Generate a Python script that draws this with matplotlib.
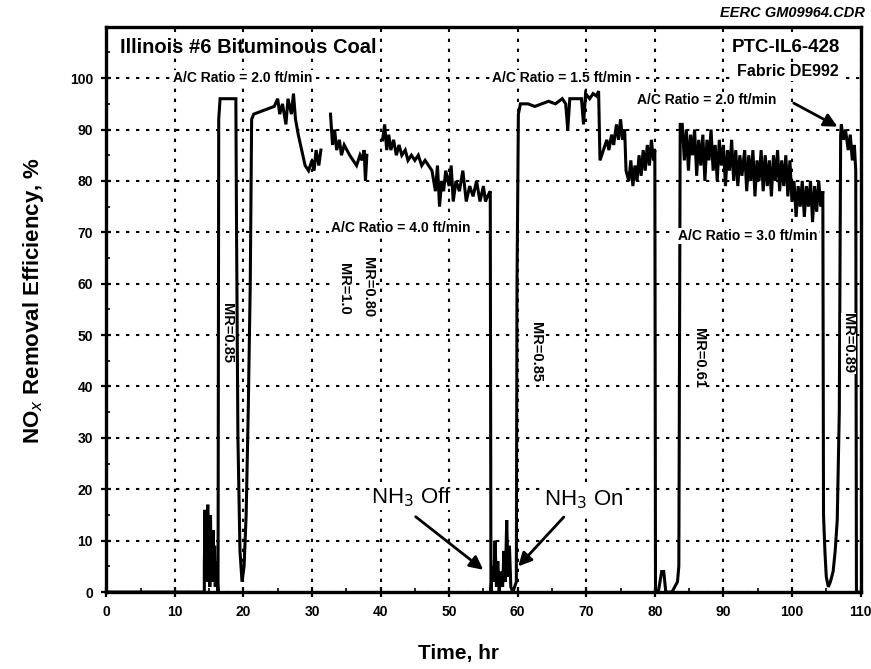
import numpy as np
import matplotlib
matplotlib.use('Agg')
import matplotlib.pyplot as plt
from matplotlib.ticker import MultipleLocator

plt.rcParams['font.family'] = ['Liberation Sans', 'DejaVu Sans']

nan = np.nan

# NOx removal efficiency (%) vs. time on stream (hr); NaN marks data gaps
time_hr = [
    0.0, 14.3, 14.3, 14.4, 14.5, 14.6, 14.7, 14.8, 14.9, 15.0, 15.1, 15.2, 15.3, 15.4,
    15.5, 15.6, 15.7, 15.8, 15.9, 16.0, 16.3,
    16.4, 16.6, 17.5, 18.3, 18.9, 19.0, 19.2, 19.5, 19.8, 20.1, 20.4, 20.7, 21.0, 21.2,
    21.5, 22.5, 23.5, 24.5, 25.0, 25.3, 25.7, 26.2, 26.5, 27.0, 27.3, 27.6, 28.0, 28.5,
    29.0, 29.5, 30.0, 30.3, 30.6, 31.0, 31.3, nan,
    32.7, 33.0, 33.3, 33.6, 34.0, 34.3, 34.7, 35.1, 35.5, 36.0, 36.5, 37.0, 37.3, 37.6,
    37.8, 38.0, nan,
    40.3, 40.6, 40.9, 41.2, 41.5, 41.9, 42.3, 42.7, 43.1, 43.6, 44.0, 44.5, 45.0, 45.5,
    46.0, 46.5, 47.0, 47.5, 48.0, 48.3, 48.6, 48.9, 49.2, 49.5, 50.0, 50.3, 50.6, 51.0,
    51.5, 52.0, 52.5, 53.0, 53.5, 54.0, 54.5, 55.0, 55.3, 55.6, 56.0, 56.1,
    56.3, 56.5, 56.7, 56.9, 57.1, 57.3, 57.5, 57.8, 58.0, 58.2, 58.4, 58.6, 58.8, 59.0,
    59.3, 59.8, 59.9, 60.1, 60.4, 61.5, 62.5, 63.5, 64.5, 65.5, 66.5, 67.0, 67.3, 67.6,
    68.5, 69.3, 69.6, 69.9, 70.5, 71.0, 71.5, 71.8, 72.0, 72.5, 73.0, 73.3, 73.7, 74.0,
    74.4, 74.7, 75.0, 75.3, 75.6, 75.8, 76.2, 76.5, 76.8, 77.1, 77.4, 77.7, 78.0, 78.3,
    78.6, 78.9, 79.2, 79.5, 79.8, 80.0, 80.1,
    80.5, 81.0, 81.3, 81.6, 82.5, 83.3, 83.5, 83.7,
    84.0, 84.3, 84.6, 84.9, 85.2, 85.5, 85.8, 86.1, 86.4, 86.7, 87.0, 87.3, 87.6, 87.9,
    88.2, 88.5, 88.8, 89.1, 89.4, 89.7, 90.0, 90.3, 90.6, 90.9, 91.2, 91.5, 91.8, 92.1,
    92.4, 92.7, 93.1, 93.4, 93.7, 94.0, 94.3, 94.6, 94.9, 95.2, 95.5, 95.8, 96.1, 96.4,
    96.7, 97.0, 97.3, 97.6, 97.9, 98.2, 98.5, 98.8, 99.1, 99.4, 99.7, 100.0, 100.3,
    100.6, 100.9, 101.2, 101.5, 101.8, 102.1, 102.4, 102.7, 103.0, 103.3, 103.6, 103.9,
    104.2, 104.5,
    104.6, 104.8, 105.0, 105.3, 105.6, 106.0, 106.3, 106.6, 106.9, 107.1, 107.2, 107.5,
    107.8, 108.2, 108.5, 108.8, 109.1, 109.3, 109.4, 109.6,
]
efficiency = [
    0, 0, 5, 16, 3, 14, 2, 17, 5, 13, 1, 15, 4, 11,
    2, 12, 3, 9, 1, 6, 0,
    92, 96, 96, 96, 96, 70, 30, 8, 2, 5, 15, 35, 60, 92,
    93, 93.5, 94, 94.5, 96, 93, 95, 91, 96, 93, 97, 92, 89, 86,
    83, 82, 84, 82, 86, 83, 86, nan,
    93, 87, 90, 86, 88, 85, 87, 86, 85, 84, 83, 85, 84, 86,
    80, 85, nan,
    88, 91, 86, 89, 86, 88, 85, 87, 85, 86, 84, 85, 84, 85,
    83, 84, 83, 82, 78, 83, 75, 80, 78, 82, 79, 83, 76, 80,
    78, 82, 76, 79, 77, 80, 76, 79, 76, 77, 78, 0,
    5, 2, 10, 1, 6, 0, 4, 1, 8, 2, 14, 3, 9, 1,
    0, 2, 60, 93, 95, 95, 94.5, 95, 95.5, 95, 96, 95, 90, 96,
    96, 96, 91, 97, 96, 97, 96.5, 97.5, 84, 86, 88, 86, 89, 87,
    91, 88, 92, 88, 90, 82, 80, 84, 79, 83, 80, 85, 81, 86,
    82, 87, 83, 88, 84, 86, 0,
    0, 4, 4, 0, 0, 2, 5, 91,
    91, 84, 90, 82, 89, 85, 90, 81, 88, 83, 89, 80, 88, 84,
    90, 82, 87, 80, 88, 83, 87, 79, 86, 82, 88, 80, 86, 79,
    85, 81, 86, 78, 85, 80, 86, 77, 84, 80, 86, 78, 85, 79,
    84, 77, 85, 80, 86, 78, 84, 79, 85, 77, 84, 76, 80,
    73, 79, 75, 80, 73, 79, 75, 80, 72, 79, 74, 80,
    75, 78,
    15, 8, 3, 1, 2, 4, 8, 14, 35, 89, 91, 88,
    90, 86, 89, 84, 87, 82, 0, 0,
]

x_ticks = list(range(0, 111, 10))
y_ticks = list(range(0, 101, 10))

fig = plt.figure(figsize=(8.71, 6.69), dpi=100)
ax = fig.add_axes([0.122, 0.115, 0.866, 0.845])

ax.plot(time_hr, efficiency, color='black', lw=2.2, solid_joinstyle='miter', zorder=3)

ax.set_xlim(0, 110)
ax.set_ylim(0, 110)
ax.set_xticks(x_ticks)
ax.set_yticks(y_ticks)
ax.xaxis.set_minor_locator(MultipleLocator(5))
ax.yaxis.set_minor_locator(MultipleLocator(5))
ax.tick_params(which='major', direction='inout', length=7, width=1.6,
               labelsize=10, pad=6)
ax.tick_params(which='minor', direction='in', length=3, width=1.2)
for lbl in ax.get_xticklabels() + ax.get_yticklabels():
    lbl.set_fontweight('bold')

ax.grid(True, which='major', color='black', linestyle=(0, (1.6, 3.2)), lw=1.5)
ax.set_axisbelow(True)
for sp in ax.spines.values():
    sp.set_linewidth(2.4)

ax.set_xlabel('Time, hr', fontsize=15, fontweight='bold', va='top')
ax.xaxis.set_label_coords(0.467, -0.092)
ax.set_ylabel('NO$_x$ Removal Efficiency, %', fontsize=16, fontweight='bold')
ax.yaxis.set_label_coords(-0.080, 0.515)

white = dict(facecolor='white', edgecolor='none', pad=1)
small = dict(fontsize=10, fontweight='bold', ha='center', va='center', zorder=4)

ax.text(2.0, 105.9, 'Illinois #6 Bituminous Coal', fontsize=14.5, fontweight='bold',
        va='center', ha='left')
ax.text(107.0, 106.0, 'PTC-IL6-428', fontsize=13.5, fontweight='bold', va='center', ha='right',
        bbox=white, zorder=4)
ax.text(106.8, 101.2, 'Fabric DE992', fontsize=11.5, fontweight='bold', va='center', ha='right',
        bbox=white, zorder=4)
ax.text(1.006, 1.012, 'EERC GM09964.CDR', transform=ax.transAxes, fontsize=10.5,
        fontweight='bold', style='italic', ha='right', va='bottom')

ax.text(19.9, 100, 'A/C Ratio = 2.0 ft/min', bbox=white, **small)
ax.text(66.4, 100, 'A/C Ratio = 1.5 ft/min', bbox=white, **small)
ax.text(87.5, 95.7, 'A/C Ratio = 2.0 ft/min', bbox=white, **small)
ax.text(42.9, 70.8, 'A/C Ratio = 4.0 ft/min', bbox=white, **small)
ax.text(93.5, 69.3, 'A/C Ratio = 3.0 ft/min', bbox=white, **small)

ax.annotate('', xy=(107.0, 90.3), xytext=(99.9, 95.4),
            arrowprops=dict(arrowstyle='-|>', lw=2, color='black', mutation_scale=20),
            zorder=4)

mr_labels = [(17.6, 50.5, 'MR=0.85'), (34.6, 59.0, 'MR=1.0'), (38.1, 59.3, 'MR=0.80'),
             (62.6, 46.7, 'MR=0.85'), (86.4, 45.5, 'MR=0.61'), (108.2, 48.4, 'MR=0.89')]
mr_box = dict(facecolor='white', edgecolor='none', pad=0.3)
for mx, my, txt in mr_labels:
    t = dict(small, fontsize=10.5)
    ax.text(mx, my, txt, rotation=-90, bbox=mr_box, **t)

ax.text(44.5, 18.5, 'NH$_3$ Off', fontsize=16, ha='center', va='center', bbox=white, zorder=4)
ax.text(69.6, 18.0, 'NH$_3$ On', fontsize=16, ha='center', va='center', bbox=white, zorder=4)
ax.annotate('', xy=(55.3, 4.0), xytext=(44.8, 15.0),
            arrowprops=dict(arrowstyle='-|>', lw=2, color='black', mutation_scale=20),
            zorder=4)
ax.annotate('', xy=(59.8, 4.6), xytext=(67.0, 15.0),
            arrowprops=dict(arrowstyle='-|>', lw=2, color='black', mutation_scale=20),
            zorder=4)

fig.savefig('out.png', dpi=100, facecolor='white')
